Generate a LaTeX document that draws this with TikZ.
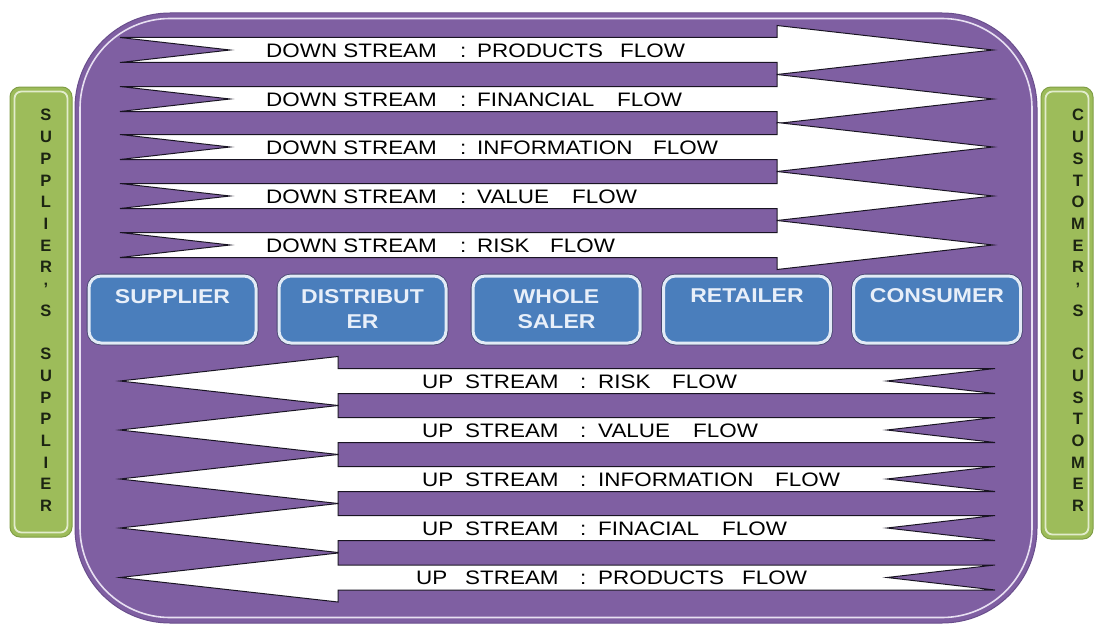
\documentclass[tikz,border=0pt]{standalone}
\usepackage{fontspec}
\setmainfont{Liberation Sans}
\usepackage{graphicx}
\usetikzlibrary{calc}

\definecolor{framefill}{RGB}{127,95,162}
\definecolor{frameedge}{RGB}{105,78,140}
\definecolor{frameline}{RGB}{232,224,242}
\definecolor{boxblue}{RGB}{74,126,188}
\definecolor{boxrim}{RGB}{226,235,246}
\definecolor{boxdark}{RGB}{70,70,110}
\definecolor{boxtext}{RGB}{232,239,249}
\definecolor{greenfill}{RGB}{157,188,90}
\definecolor{greenedge}{RGB}{128,158,70}
\definecolor{greenline}{RGB}{226,236,204}
\definecolor{sideink}{RGB}{28,36,18}
\definecolor{arrowink}{RGB}{25,20,35}

% horizontally widened lettering
\newcommand\sx[1]{\scalebox{1.15}[1]{#1}}
% a word set in a box of fixed width
\newcommand\seg[2]{\makebox[#1pt][l]{\sx{#2}}}

\begin{document}
\begin{tikzpicture}[x=1pt,y=-1pt,
  flowarrow/.style={fill=white,draw=arrowink,line width=1pt,line join=miter},
  flowtxt/.style={inner sep=0pt,text=black,font=\fontsize{19.5}{22}\selectfont},
  stage/.style={rounded corners=12pt,fill=boxblue,draw=boxrim,line width=3pt,
    minimum width=167pt,minimum height=67pt,inner sep=0pt,
    preaction={draw=boxdark,line width=4.6pt}},
  stagetxt/.style={inner sep=0pt,align=center,text=boxtext,
    font=\bfseries\fontsize{20}{25}\selectfont},
  sidebar/.style={rounded corners=10pt,fill=greenfill,draw=greenedge,line width=1pt},
  sideline/.style={rounded corners=7pt,draw=greenline,line width=1.8pt},
  sidetxt/.style={inner sep=0pt,align=center,text=sideink,
    font=\bfseries\fontsize{16.5}{21.7}\selectfont}
]
\useasboundingbox (0,0) rectangle (1094,626);
\fill[white] (0,0) rectangle (1094,626);

% outer purple frame with its light inner rim
\fill[framefill,draw=frameedge,line width=1pt,rounded corners=95pt] (75,13) rectangle (1037,623);
\draw[frameline,line width=1.6pt,rounded corners=90pt] (80,18.5) rectangle (1032,617.5);

% side bars
\path[sidebar] (10,87) rectangle (72,537);
\path[sideline] (14.5,91.5) rectangle (67.5,532.5);
\path[sidebar] (1041,87) rectangle (1093,539);
\path[sideline] (1045.5,91.5) rectangle (1088.5,534.5);

\node[sidetxt] (lside) at (46,310.5)
  {S\\U\\P\\P\\L\\I\\E\\R\\'\\S\\[21.7pt]S\\U\\P\\P\\L\\I\\E\\R};
\node[sidetxt] (rside) at (1078,310.5)
  {C\\U\\S\\T\\O\\M\\E\\R\\'\\S\\[21.7pt]C\\U\\S\\T\\O\\M\\E\\R};

% downstream arrows (pointing right, notched tail)
\foreach \c in {50,99,147,196,245}
  \draw[flowarrow] (120,\c-12.5) -- (777,\c-12.5) -- (777,\c-24.5) -- (993,\c)
    -- (777,\c+24.5) -- (777,\c+12.5) -- (120,\c+12.5) -- (230,\c) -- cycle;

% upstream arrows (pointing left, notched tail)
\foreach \c in {381,430,479,528,577.5}
  \draw[flowarrow] (120,\c) -- (338,\c-24.5) -- (338,\c-12.5) -- (995,\c-12.5)
    -- (887,\c) -- (995,\c+12.5) -- (338,\c+12.5) -- (338,\c+24.5) -- cycle;

% supply chain stages
\node[stage] (sup) at (172.5,309.5) {};
\node[stage] (dis) at (362.5,309.5) {};
\node[stage] (who) at (556.5,309.5) {};
\node[stage] (ret) at (747,309.5) {};
\node[stage] (con) at (937,309.5) {};

\node[stagetxt,anchor=north] (supt) at ($(sup.north)+(0,14.5)$) {\sx{SUPPLIER}};
\node[stagetxt,anchor=north] (dist) at ($(dis.north)+(0,14.5)$) {\sx{DISTRIBUT}\\\sx{ER}};
\node[stagetxt,anchor=north] (whot) at ($(who.north)+(0,14.5)$) {\sx{WHOLE}\\\sx{SALER}};
\node[stagetxt,anchor=north] (rett) at ($(ret.north)+(0,14.5)$) {\sx{RETAILER}};
\node[stagetxt,anchor=north] (cont) at ($(con.north)+(0,13.5)$) {\sx{CONSUMER}};

% downstream labels
\node[flowtxt,anchor=base west] (d1) at (266,57)
  {\seg{194}{DOWN STREAM}\seg{17}{:}\seg{143}{PRODUCTS}\sx{FLOW}};
\node[flowtxt,anchor=base west] (d2) at (266,106)
  {\seg{194}{DOWN STREAM}\seg{17}{:}\seg{140}{FINANCIAL}\sx{FLOW}};
\node[flowtxt,anchor=base west] (d3) at (266,154)
  {\seg{194}{DOWN STREAM}\seg{17}{:}\seg{176}{INFORMATION}\sx{FLOW}};
\node[flowtxt,anchor=base west] (d4) at (266,203)
  {\seg{194}{DOWN STREAM}\seg{17}{:}\seg{95}{VALUE}\sx{FLOW}};
\node[flowtxt,anchor=base west] (d5) at (266,252)
  {\seg{194}{DOWN STREAM}\seg{17}{:}\seg{73}{RISK}\sx{FLOW}};

% upstream labels
\node[flowtxt,anchor=base west] (u1) at (422,388)
  {\seg{43}{UP}\seg{115}{STREAM}\seg{18}{:}\seg{74}{RISK}\sx{FLOW}};
\node[flowtxt,anchor=base west] (u2) at (422,437)
  {\seg{43}{UP}\seg{115}{STREAM}\seg{18}{:}\seg{95}{VALUE}\sx{FLOW}};
\node[flowtxt,anchor=base west] (u3) at (422,486)
  {\seg{43}{UP}\seg{115}{STREAM}\seg{18}{:}\seg{177}{INFORMATION}\sx{FLOW}};
\node[flowtxt,anchor=base west] (u4) at (422,535)
  {\seg{43}{UP}\seg{115}{STREAM}\seg{18}{:}\seg{124}{FINACIAL}\sx{FLOW}};
\node[flowtxt,anchor=base west] (u5) at (416,584.5)
  {\seg{49}{UP}\seg{115}{STREAM}\seg{18}{:}\seg{144}{PRODUCTS}\sx{FLOW}};
\end{tikzpicture}
\end{document}
